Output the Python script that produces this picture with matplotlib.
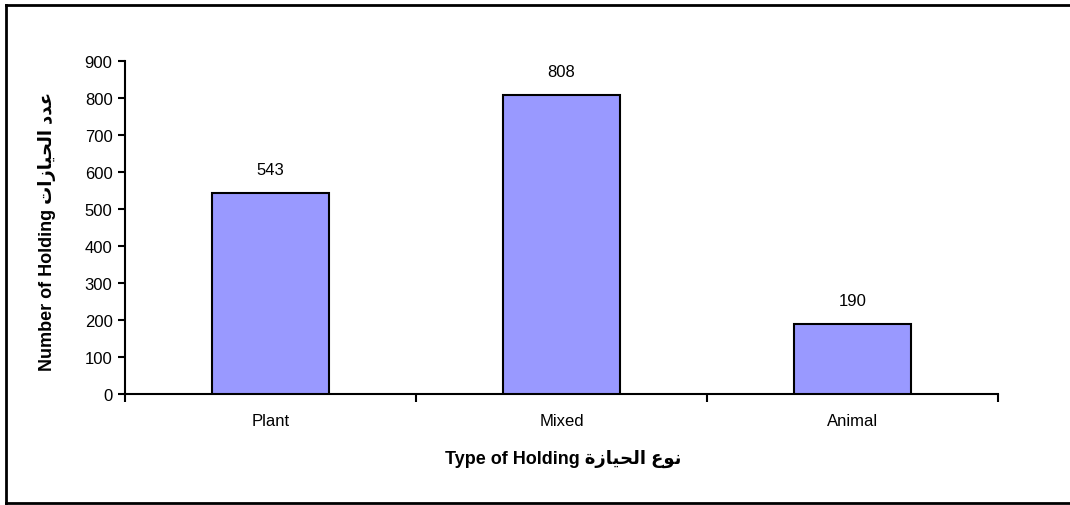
import matplotlib
matplotlib.use("Agg")
import matplotlib.pyplot as plt
from matplotlib.lines import Line2D
import numpy as np

plt.rcParams['font.family'] = ['Liberation Sans', 'DejaVu Sans']

categories = ["Plant", "Mixed", "Animal"]
holdings = [543, 808, 190]
y_ticks = [0, 100, 200, 300, 400, 500, 600, 700, 800, 900]

# arabic written in presentation forms, visual (left to right) order,
# because matplotlib does no shaping or bidi
ar_type = "\uFE93\uFEAF\uFE8E\uFEF4\uFEA4\uFEDF\uFE8D \uFEC9\uFEEE\uFEE7"
ar_number = "\uFE95\uFE8D\uFEAF\uFE8E\uFEF4\uFEA4\uFEDF\uFE8D \uFEA9\uFEAA\uFECB"

fig = plt.figure(figsize=(10.7, 5.06), dpi=100)
ax = fig.add_axes([125/1070, 1-395/506, 873/1070, 333/506])

x = np.arange(len(categories))
ax.bar(x, holdings, width=0.4, color='#9999FF', edgecolor='black', linewidth=1.5, zorder=3)

for xi, v in zip(x, holdings):
    ax.annotate(str(v), (xi, v), xytext=(0, 17), textcoords='offset points',
                ha='center', va='center', fontsize=12)

ax.set_xlim(-0.5, 2.5)
ax.set_ylim(0, 900)
ax.set_yticks(y_ticks)
ax.tick_params(axis='y', labelsize=12, length=5, width=1.5, direction='out', pad=4)

# category labels in between, ticks on the category borders
ax.set_xticks([-0.5, 0.5, 1.5, 2.5])
ax.set_xticklabels([])
ax.tick_params(axis='x', length=6, width=1.5, direction='out')
ax.set_xticks(x, minor=True)
ax.set_xticklabels(categories, minor=True)
ax.tick_params(axis='x', which='minor', length=0, labelsize=12, pad=14)

for s in ['top', 'right']:
    ax.spines[s].set_visible(False)
for s in ['left', 'bottom']:
    ax.spines[s].set_linewidth(1.5)

ax.set_xlabel("Type of Holding " + ar_type, fontsize=13, fontweight='bold')
ax.xaxis.set_label_coords(0.502, -0.165)
ax.set_ylabel("Number of Holding " + ar_number, fontsize=13, fontweight='bold')
ax.yaxis.set_label_coords(-0.079, 0.49)

# outer chart border (right side is cut off in the original)
W, H = 1070, 506
for (x0, y0, x1, y1) in [(6, 6, 1075, 6), (6, 6, 6, 504), (6, 504, 1075, 504)]:
    fig.add_artist(Line2D([x0/W, x1/W], [1-y0/H, 1-y1/H], color='black', lw=2, transform=fig.transFigure))

fig.savefig("out.png", dpi=100)
